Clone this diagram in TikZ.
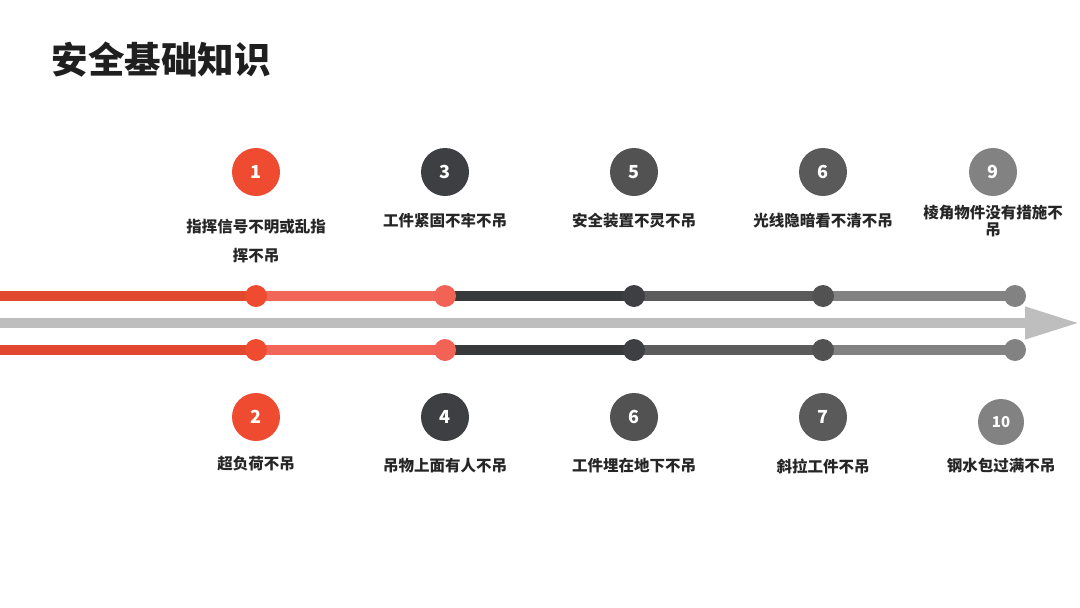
\documentclass[tikz,border=0pt]{standalone}
\usepackage{fontspec}
\newfontfamily\cjk{Noto Sans CJK SC}
\usetikzlibrary{arrows.meta,backgrounds}
\definecolor{hong}{HTML}{EE4B31}
\definecolor{qianhong}{HTML}{F2665A}
\definecolor{shen}{HTML}{3E3F42}
\definecolor{zhong}{HTML}{525252}
\definecolor{hui}{HTML}{5A5A5A}
\definecolor{qianhui}{HTML}{828282}
\definecolor{jiantou}{HTML}{BEBEBE}
\tikzstyle{numball} = [circle, minimum size=48pt, inner sep=0pt,
    text=white, font=\cjk\bfseries\fontsize{18}{18}\selectfont]
\tikzstyle{knot} = [circle, minimum size=22pt, inner sep=0pt]
\tikzstyle{tiao} = [line width=10pt, shorten <=-3pt, shorten >=-3pt]
\tikzstyle{shuoming} = [text=black!85, align=center,
    font=\cjk\bfseries\fontsize{15.5}{29}\selectfont]

\begin{document}
\begin{tikzpicture}[x=1pt,y=-1pt]
\useasboundingbox (0,0) rectangle (1080,608);
\node[anchor=west, font=\cjk\bfseries\fontsize{36.5}{36.5}\selectfont, text=black!88] (title) at (48,60) {安全基础知识};

% numbers above
\node[numball, fill=hong] (q1) at (256,172) {1};
\node[numball, fill=shen] (q3) at (445,172) {3};
\node[numball, fill=zhong] (q5) at (634,172) {5};
\node[numball, fill=hui] (q6) at (823,172) {6};
\node[numball, fill=qianhui] (q9) at (993,172) {9};
\node[shuoming] (s1) at (256,241) {指挥信号不明或乱指\\挥不吊};
\node[shuoming] (s3) at (445,221) {工件紧固不牢不吊};
\node[shuoming] (s5) at (634,221) {安全装置不灵不吊};
\node[shuoming] (s6) at (823,221) {光线隐暗看不清不吊};
\node[shuoming, font=\cjk\bfseries\fontsize{15.5}{17}\selectfont] (s9) at (993,221) {棱角物件没有措施不\\吊};

% numbers below
\node[numball, fill=hong] (p2) at (256,417) {2};
\node[numball, fill=shen] (p4) at (445,417) {4};
\node[numball, fill=zhong] (p6) at (634,417) {6};
\node[numball, fill=hui] (p7) at (823,417) {7};
\node[numball, fill=qianhui, minimum size=46pt, font=\cjk\bfseries\fontsize{15}{15}\selectfont] (p10) at (1001,422) {10};
\node[shuoming] (r2) at (256,464) {超负荷不吊};
\node[shuoming] (r4) at (445,466) {吊物上面有人不吊};
\node[shuoming] (r6) at (634,466) {工件埋在地下不吊};
\node[shuoming] (r7) at (823,466) {斜拉工件不吊};
\node[shuoming] (r10) at (1001,466) {钢水包过满不吊};

% dots on the two lines
\foreach \y/\r in {296/t, 350/b} {
  \node[knot, fill=hong] (\r1) at (256,\y) {};
  \node[knot, fill=qianhong!90!hong] (\r2) at (445,\y) {};
  \node[knot, fill=shen] (\r3) at (634,\y) {};
  \node[knot, fill=zhong] (\r4) at (823,\y) {};
  \node[knot, fill=qianhui] (\r5) at (1015,\y) {};
  \coordinate (\r0) at (0,\y);
}
\coordinate (ga) at (0,323);
\coordinate (gb) at (1080,323);

\begin{scope}[on background layer]
\foreach \r in {t,b} {
  \draw[tiao, hong!95!black, shorten <=0pt] (\r0) -- (\r1);
  \draw[tiao, qianhong] (\r1) -- (\r2);
  \draw[tiao, shen!90!black] (\r2) -- (\r3);
  \draw[tiao, zhong!95!white] (\r3) -- (\r4);
  \draw[tiao, qianhui] (\r4) -- (\r5);
}
\draw[line width=10pt, jiantou, -{Triangle[length=55pt, width=30pt]}] (ga) -- (gb);
\end{scope}
\end{tikzpicture}
\end{document}
